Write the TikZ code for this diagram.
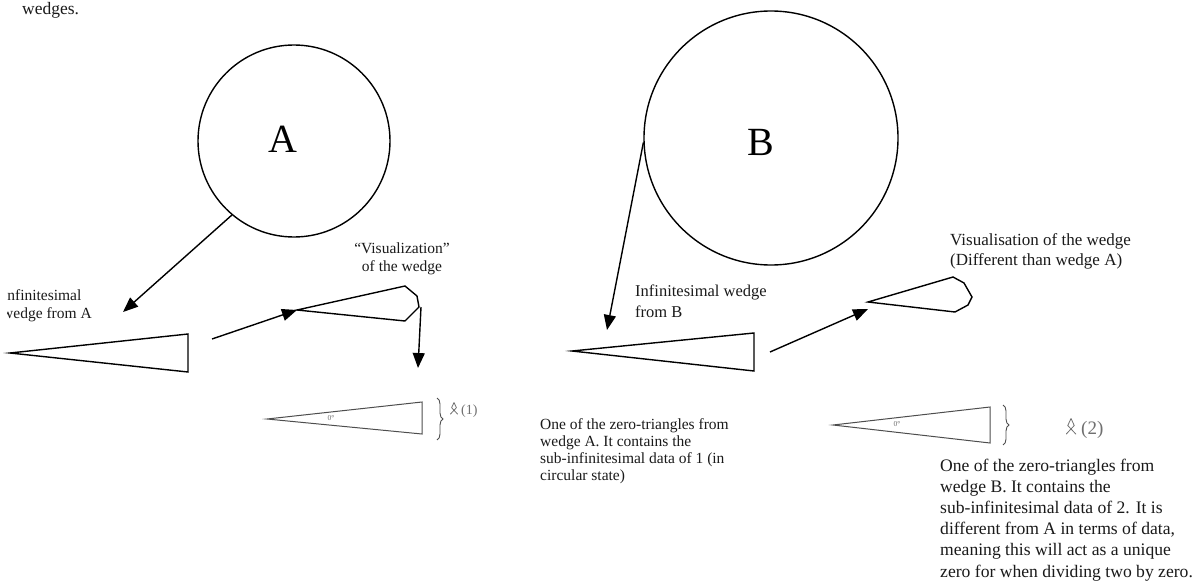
\documentclass[tikz,border=0pt]{standalone}
\usepackage{fontspec}
\setmainfont{Liberation Serif}
\usetikzlibrary{arrows.meta,decorations.pathreplacing}
\definecolor{greyline}{HTML}{4D4D4D}
\definecolor{greytext}{HTML}{707070}
\definecolor{textcol}{HTML}{1A1A1A}
\tikzset{
  shapeline/.style={draw=black, line width=1.4pt, line join=miter},
  conn/.style={draw=black, line width=1.4pt, -{Triangle[length=15pt,width=12pt]}},
  thinline/.style={draw=greyline, line width=1pt},
  bigcircle/.style={circle, draw=black, line width=1.4pt, inner sep=0pt},
  lbl/.style={font=\fontsize{15.5}{18}\selectfont, text=textcol, align=left, inner sep=0pt, anchor=base west},
  lblB/.style={lbl, font=\fontsize{17.6}{21.2}\selectfont},
  letter/.style={font=\fontsize{40}{44}\selectfont, inner sep=0pt},
  tiny/.style={font=\fontsize{7.5}{8}\selectfont, text=greytext, inner sep=0pt},
  greymark/.style={text=greytext, inner sep=0pt, anchor=base west},
  bracestyle/.style={draw=greyline, line width=0.9pt, decorate, decoration={brace, amplitude=6pt}},
  ribbon/.pic={\draw[greytext, line width=0.8pt, line join=round, line cap=round]
     (-3.5,0) -- (2.4,-6.3) -- (0,-11.5) -- (-2.4,-6.3) -- (3.5,0);}
}
\begin{document}
\begin{tikzpicture}[x=1pt,y=-1pt]
\useasboundingbox (0,0) rectangle (1198,583);
\clip (0,0) rectangle (1198,583);
\fill[white] (0,0) rectangle (1198,583);

% top text (cut off)
\node[lbl, font=\fontsize{17.5}{20}\selectfont] (top) at (22,15) {wedges.};

% circles
\node[bigcircle, minimum size=192pt] (cA) at (294,141) {};
\node[letter] (lA) at (283,139) {A};
\node[bigcircle, minimum size=254pt] (cB) at (771,138) {};
\node[letter] (lB) at (761,142) {B};

% ----- A side
\coordinate (tipA1) at (123,312);
\draw[conn] (cA.230) -- (tipA1);
\begin{scope}
\clip (7.5,270) rectangle (200,330);
\node[lbl] (infA) at (2,318) {Infinitesimal\\wedge from A};
\end{scope}

\coordinate (wA1) at (10,353);
\coordinate (wA2) at (188,334);
\coordinate (wA3) at (188,372);
\draw[shapeline] (wA1) -- (wA2) -- (wA3) -- cycle;

\coordinate (aA1s) at (212,339);
\coordinate (vA1) at (297,310);
\coordinate (vA2) at (405,286);
\coordinate (vA3) at (417,296);
\coordinate (vA4) at (419,307);
\coordinate (vA5) at (405,321);
\draw[conn] (aA1s) -- (vA1);
\draw[shapeline] (vA1) -- (vA2) -- (vA3) -- (vA4) -- (vA5) -- cycle;

\node[lbl, align=center, anchor=base] (visA) at (402,271) {\textquotedblleft Visualization\textquotedblright\\of the wedge};

\coordinate (aA2s) at (421,307);
\coordinate (aA2e) at (418,368);
\draw[conn] (aA2s) -- (aA2e);

\coordinate (zA1) at (267,419);
\coordinate (zA2) at (422,402);
\coordinate (zA3) at (422,434);
\draw[thinline] (zA1) -- (zA2) -- (zA3) -- cycle;
\node[tiny] (degA) at (331,418) {0°};
\coordinate (bA1) at (437,398);
\coordinate (bA2) at (437,440);
\draw[bracestyle] (bA1) -- (bA2);
\pic at (454,414) {ribbon};
\node[greymark, font=\fontsize{14}{16}\selectfont] (markA) at (461,414) {(1)};

\node[lbl, font=\fontsize{15.5}{17}\selectfont] (txtA) at (540,480) {One of the zero-triangles from\\wedge A. It contains the\\sub-infinitesimal data of 1 (in\\circular state)};

% ----- B side
\coordinate (tipB1) at (607,330);
\draw[conn] (cB.182) -- (tipB1);
\node[lblB, font=\fontsize{16.5}{21}\selectfont] (infB) at (635,317) {Infinitesimal wedge\\from B};

\coordinate (wB1) at (572,351);
\coordinate (wB2) at (754,333);
\coordinate (wB3) at (754,371);
\draw[shapeline] (wB1) -- (wB2) -- (wB3) -- cycle;

\coordinate (aB1s) at (770,352);
\coordinate (vB1) at (868,302);
\coordinate (vB2) at (953,277);
\coordinate (vB3) at (964,283);
\coordinate (vB4) at (972,297);
\coordinate (vB5) at (968,305);
\coordinate (vB6) at (955,312);
\coordinate (aB1e) at (868,309);
\draw[conn] (aB1s) -- (aB1e);
\draw[shapeline] (vB1) -- (vB2) -- (vB3) -- (vB4) -- (vB5) -- (vB6) -- cycle;

\node[lblB, font=\fontsize{17}{20}\selectfont] (visB) at (950,265) {Visualisation of the wedge\\(Different than wedge A)};

\coordinate (zB1) at (833,425);
\coordinate (zB2) at (990,407);
\coordinate (zB3) at (990,443);
\draw[thinline] (zB1) -- (zB2) -- (zB3) -- cycle;
\node[tiny] (degB) at (897,424) {0°};
\coordinate (bB1) at (1003,405);
\coordinate (bB2) at (1003,445);
\draw[bracestyle] (bB1) -- (bB2);
\pic[scale=1.35] at (1071,434) {ribbon};
\node[greymark, font=\fontsize{19}{21}\selectfont] (markB) at (1081,434) {(2)};

\node[lblB] (txtB) at (940,577) {One of the zero-triangles from\\wedge B. It contains the\\sub-infinitesimal data of 2. It is\\different from A in terms of data,\\meaning this will act as a unique\\zero for when dividing two by zero.};
\end{tikzpicture}
\end{document}
